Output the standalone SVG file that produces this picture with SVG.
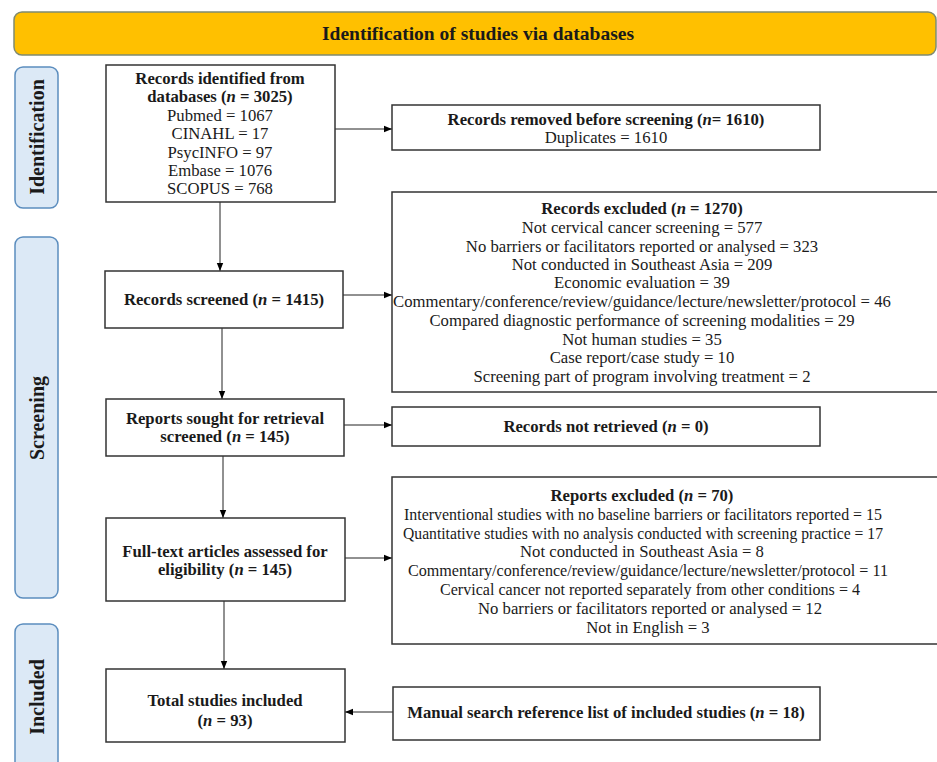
<svg xmlns="http://www.w3.org/2000/svg" width="937" height="762" viewBox="0 0 937 762">
<defs>
<marker id="ah" viewBox="0 0 10 10" refX="10" refY="5" markerWidth="8" markerHeight="8" markerUnits="userSpaceOnUse" orient="auto">
<path d="M0,1 L10,5 L0,9 z" fill="#000"/>
</marker>
<style>
text{font-family:"Liberation Serif","Times New Roman",serif;font-size:16.7px;fill:#1a1a1a;text-anchor:middle}
.b{font-weight:bold}
.box{fill:#fff;stroke:#333;stroke-width:1.5}
.side{fill:#DCE9F6;stroke:#5B8DBE;stroke-width:1.5}
.hdr{fill:#FFC000;stroke:#7F8A70;stroke-width:1.5}
.con{stroke:#222;stroke-width:1;fill:none;marker-end:url(#ah)}
.lab{font-size:20px;font-weight:bold}
.ht{font-size:19.5px;font-weight:bold}
</style>
</defs>
<rect width="937" height="762" fill="#fff"/>

<g id="header">
<rect class="hdr" x="14" y="12" width="922" height="43" rx="8"/>
<text class="ht" x="478" y="40">Identification of studies via databases</text>
</g>

<g id="side-identification">
<rect class="side" x="15" y="67" width="43" height="141" rx="8"/>
<text class="lab" transform="translate(44,137) rotate(-90)">Identification</text>
</g>
<g id="side-screening">
<rect class="side" x="15" y="237" width="43" height="361" rx="8"/>
<text class="lab" transform="translate(44,418) rotate(-90)">Screening</text>
</g>
<g id="side-included">
<rect class="side" x="15" y="624" width="43" height="150" rx="8"/>
<text class="lab" transform="translate(44,697) rotate(-90)">Included</text>
</g>

<g id="connectors">
<line class="con" x1="220" y1="202" x2="220" y2="271"/>
<line class="con" x1="335" y1="129" x2="392" y2="129"/>
<line class="con" x1="343" y1="295" x2="392" y2="295"/>
<line class="con" x1="222" y1="328" x2="222" y2="399"/>
<line class="con" x1="344" y1="425" x2="392" y2="425"/>
<line class="con" x1="223" y1="456" x2="223" y2="518"/>
<line class="con" x1="345" y1="558" x2="392" y2="558"/>
<line class="con" x1="224" y1="601" x2="224" y2="669"/>
<line class="con" x1="393" y1="712" x2="345" y2="712"/>
</g>

<g id="records-identified">
<rect class="box" x="106" y="65" width="229" height="137"/>
<text class="b" x="220" y="84">Records identified from</text>
<text class="b" x="220" y="102">databases (<tspan font-style="italic">n</tspan> = 3025)</text>
<text x="220" y="121">Pubmed = 1067</text>
<text x="220" y="139">CINAHL = 17</text>
<text x="220" y="158">PsycINFO = 97</text>
<text x="220" y="176">Embase = 1076</text>
<text x="220" y="194">SCOPUS = 768</text>
</g>

<g id="records-removed">
<rect class="box" x="392" y="105" width="428" height="45"/>
<text class="b" x="606" y="125">Records removed before screening (<tspan font-style="italic">n</tspan>= 1610)</text>
<text x="606" y="143">Duplicates = 1610</text>
</g>

<g id="records-screened">
<rect class="box" x="105" y="271" width="238" height="57"/>
<text class="b" x="224" y="305">Records screened (<tspan font-style="italic">n</tspan> = 1415)</text>
</g>

<g id="records-excluded">
<rect class="box" x="392" y="192" width="550" height="200"/>
<text class="b" x="642" y="214">Records excluded (<tspan font-style="italic">n</tspan> = 1270)</text>
<text x="642" y="233">Not cervical cancer screening = 577</text>
<text x="642" y="252">No barriers or facilitators reported or analysed = 323</text>
<text x="642" y="270">Not conducted in Southeast Asia = 209</text>
<text x="642" y="288">Economic evaluation = 39</text>
<text x="642" y="307">Commentary/conference/review/guidance/lecture/newsletter/protocol = 46</text>
<text x="642" y="326">Compared diagnostic performance of screening modalities = 29</text>
<text x="642" y="345">Not human studies = 35</text>
<text x="642" y="363">Case report/case study = 10</text>
<text x="642" y="382">Screening part of program involving treatment = 2</text>
</g>

<g id="reports-sought">
<rect class="box" x="106" y="399" width="238" height="57"/>
<text class="b" x="225" y="424">Reports sought for retrieval</text>
<text class="b" x="225" y="442">screened (<tspan font-style="italic">n</tspan> = 145)</text>
</g>

<g id="records-not-retrieved">
<rect class="box" x="392" y="407" width="428" height="39"/>
<text class="b" x="606" y="432">Records not retrieved (<tspan font-style="italic">n</tspan> = 0)</text>
</g>

<g id="full-text">
<rect class="box" x="106" y="518" width="239" height="83"/>
<text class="b" x="225" y="557">Full-text articles assessed for</text>
<text class="b" x="225" y="575">eligibility (<tspan font-style="italic">n</tspan> = 145)</text>
</g>

<g id="reports-excluded">
<rect class="box" x="392" y="477" width="550" height="167"/>
<text class="b" x="642" y="501">Reports excluded (<tspan font-style="italic">n</tspan> = 70)</text>
<text x="643" y="520" textLength="478" lengthAdjust="spacingAndGlyphs">Interventional studies with no baseline barriers or facilitators reported = 15</text>
<text x="643" y="539" textLength="480" lengthAdjust="spacingAndGlyphs">Quantitative studies with no analysis conducted with screening practice = 17</text>
<text x="642" y="557">Not conducted in Southeast Asia = 8</text>
<text x="648" y="576" textLength="480" lengthAdjust="spacingAndGlyphs">Commentary/conference/review/guidance/lecture/newsletter/protocol = 11</text>
<text x="650" y="595" textLength="420" lengthAdjust="spacingAndGlyphs">Cervical cancer not reported separately from other conditions = 4</text>
<text x="650" y="614">No barriers or facilitators reported or analysed = 12</text>
<text x="648" y="633">Not in English = 3</text>
</g>

<g id="total-included">
<rect class="box" x="106" y="669" width="239" height="73"/>
<text class="b" x="225" y="706">Total studies included</text>
<text class="b" x="225" y="726">(<tspan font-style="italic">n</tspan> = 93)</text>
</g>

<g id="manual-search">
<rect class="box" x="393" y="687" width="427" height="53"/>
<text class="b" x="606" y="718">Manual search reference list of included studies (<tspan font-style="italic">n</tspan> = 18)</text>
</g>
</svg>
